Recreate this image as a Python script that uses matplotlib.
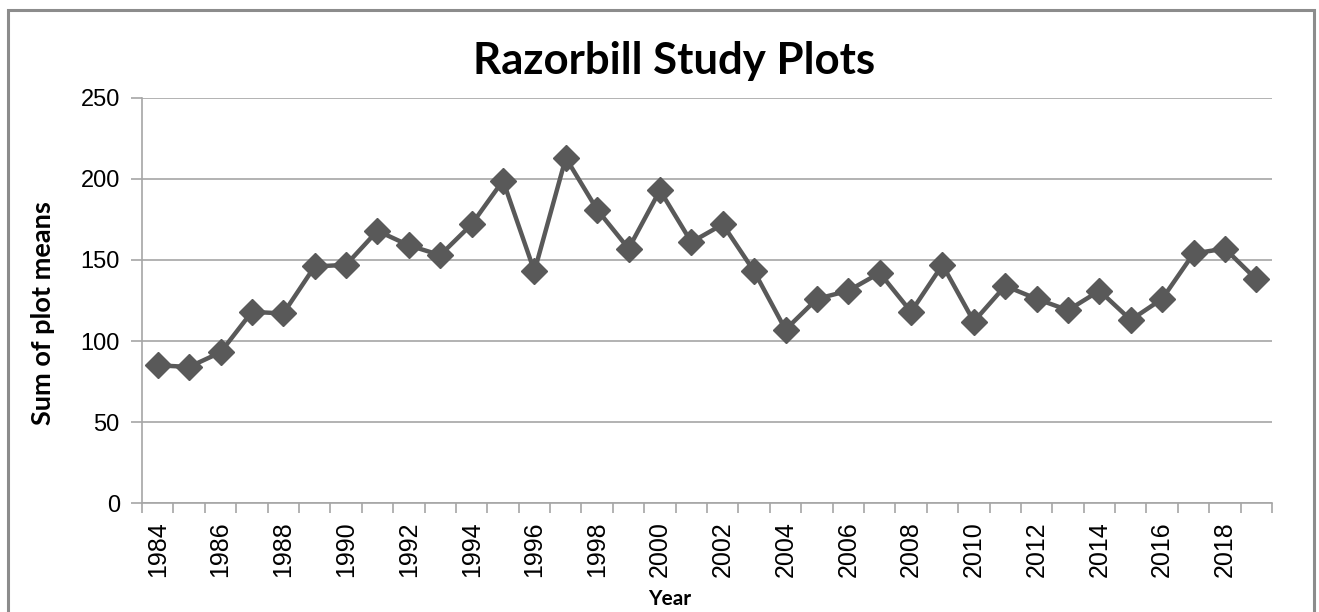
import numpy as np
import matplotlib
matplotlib.use('Agg')
import matplotlib.pyplot as plt
from matplotlib.patches import Rectangle

years = list(range(1984, 2020))
values = [85, 84, 93, 118, 117, 146, 147, 168, 159, 153, 172, 199, 143,
          213, 181, 157, 193, 161, 172, 143, 107, 126, 131, 142,
          118, 147, 112, 134, 126, 119, 131, 113, 126, 154, 157, 138]
yticks = [0, 50, 100, 150, 200, 250]

fig = plt.figure(figsize=(13.19, 6.12), dpi=100)
ax = fig.add_axes([0.1077, 0.178, 0.8567, 0.662])

# outer chart border
fig.patches.append(Rectangle((0.006, -0.01), 0.9905, 0.994, transform=fig.transFigure,
                             fill=False, edgecolor='#8c8c8c', linewidth=2.2))

x = np.arange(len(years))
ax.plot(x, values, color='#595959', linewidth=3.2, marker='D', markersize=13,
        markerfacecolor='#595959', markeredgecolor='#595959', zorder=3)

ax.set_xlim(-0.5, len(years) - 0.5)
ax.set_ylim(0, 250)
ax.set_yticks(yticks)
ax.yaxis.grid(True, color='#a6a6a6', linewidth=1.2)
ax.set_axisbelow(True)

# category ticks at boundaries, labels every other year
ax.set_xticks(np.arange(len(years) + 1) - 0.5)
ax.set_xticklabels([])
ax.set_xticks(x[::2], minor=True)
ax.set_xticklabels([str(y) for y in years[::2]], minor=True, rotation=90)
ax.tick_params(axis='x', which='major', length=7, color='#a6a6a6', width=1.2)
ax.tick_params(axis='x', which='minor', length=0, pad=13, labelsize=18,
               labelfontfamily='Liberation Sans')
ax.tick_params(axis='y', length=8, color='#a6a6a6', width=1.2, pad=8,
               labelsize=17, labelfontfamily='Liberation Sans')

for s in ['top', 'right']:
    ax.spines[s].set_visible(False)
for s in ['left', 'bottom']:
    ax.spines[s].set_color('#a6a6a6')
    ax.spines[s].set_linewidth(1.2)

fig.text(0.511, 0.879, 'Razorbill Study Plots', fontsize=31.5, fontweight='bold',
         family='Lato', ha='center', va='baseline')
ax.set_ylabel('Sum of plot means', fontsize=19.5, fontweight='bold', family='Lato')
ax.set_xlabel('Year', fontsize=15, fontweight='bold', family='Lato')
ax.yaxis.set_label_coords(-0.077, 0.47)
ax.xaxis.set_label_coords(0.467, -0.212)

fig.savefig('out.png', dpi=100)
